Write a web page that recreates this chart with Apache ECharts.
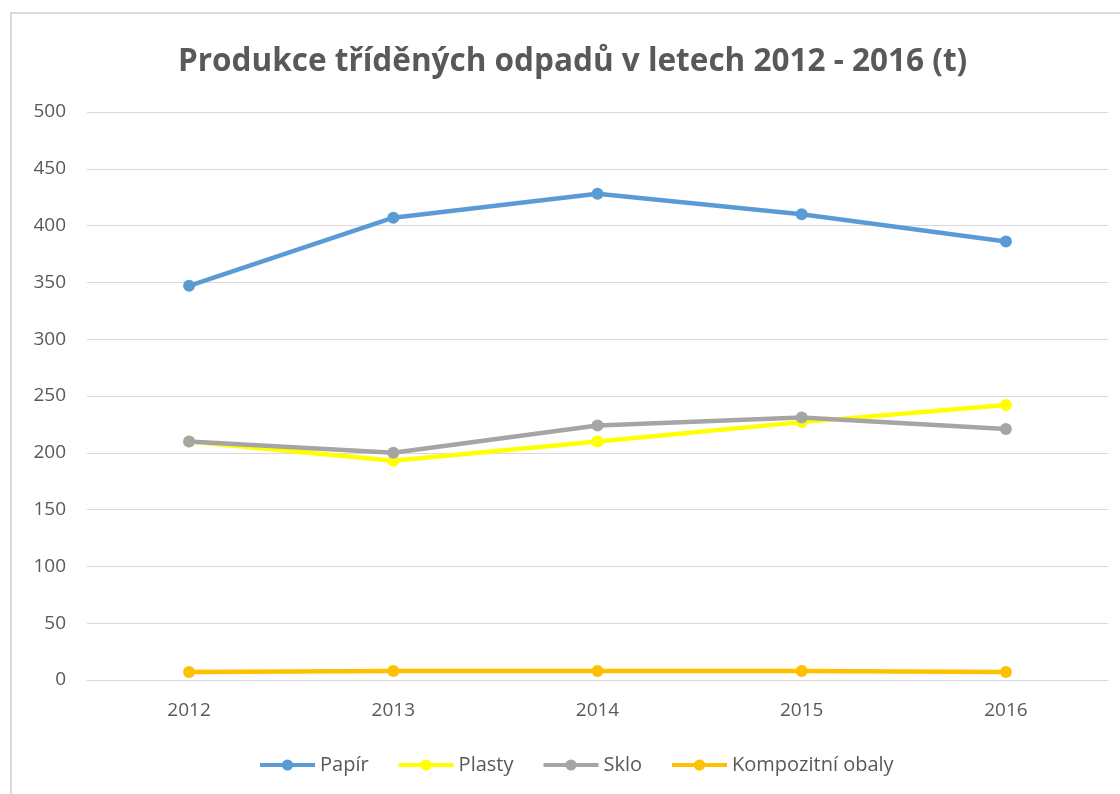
<!DOCTYPE html>
<html>
<head>
<meta charset="utf-8">
<title>Produkce tříděných odpadů</title>
<script src="https://cdn.jsdelivr.net/npm/echarts@6/dist/echarts.min.js"></script>
<style>
  html, body { margin: 0; padding: 0; background: #fff; }
  #chart { width: 1120px; height: 794px; }
</style>
</head>
<body>
<div id="chart"></div>
<script>
var years = ['2012', '2013', '2014', '2015', '2016'];
var papir = [347, 407, 428, 410, 386];
var plasty = [210, 193, 210, 227, 242];
var sklo = [210, 200, 224, 231, 221];
var kompozit = [7, 8, 8, 8, 7];

var chart = echarts.init(document.getElementById('chart'));
var font = 'Open Sans';

function lineSeries(name, data, color) {
    return {
        name: name,
        type: 'line',
        data: data,
        symbol: 'circle',
        symbolSize: 12,
        lineStyle: { width: 4.5, color: color },
        itemStyle: { color: color },
        z: 3
    };
}

var option = {
    animation: false,
    graphic: [{
        type: 'rect',
        shape: { x: 11, y: 13, width: 1200, height: 900 },
        style: { fill: 'none', stroke: '#d9d9d9', lineWidth: 2 },
        silent: true
    }],
    title: {
        text: 'Produkce tříděných odpadů v letech 2012 - 2016 (t)',
        left: 173,
        top: 41,
        textStyle: { fontFamily: font, fontSize: 31.5, fontWeight: 'bold', color: '#595959' }
    },
    legend: {
        bottom: 14,
        left: 253,
        itemWidth: 55,
        itemHeight: 14,
        itemGap: 28,
        lineStyle: { width: 4 },
        textStyle: { fontFamily: font, fontSize: 20, color: '#595959' },
        data: ['Papír', 'Plasty', 'Sklo', 'Kompozitní obaly']
    },
    grid: { left: 87, right: 12, top: 112, bottom: 114 },
    xAxis: {
        type: 'category',
        data: years,
        boundaryGap: true,
        axisLine: { lineStyle: { color: '#d9d9d9', width: 1 } },
        axisTick: { show: false },
        axisLabel: { fontFamily: font, fontSize: 19, color: '#595959', margin: 21 }
    },
    yAxis: {
        type: 'value',
        min: 0,
        max: 500,
        interval: 50,
        axisLine: { show: false },
        axisTick: { show: false },
        splitLine: { lineStyle: { color: '#d9d9d9', width: 1 } },
        axisLabel: { fontFamily: font, fontSize: 19, color: '#595959', margin: 21 }
    },
    series: [
        lineSeries('Papír', papir, '#5b9bd5'),
        lineSeries('Plasty', plasty, '#ffff00'),
        lineSeries('Sklo', sklo, '#a5a5a5'),
        lineSeries('Kompozitní obaly', kompozit, '#ffc000')
    ]
};
chart.setOption(option);
</script>
</body>
</html>
